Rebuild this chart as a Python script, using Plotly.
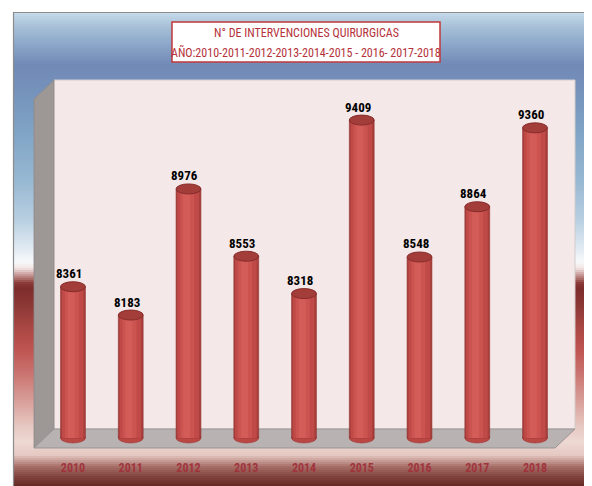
import plotly.graph_objects as go

# ---------------- data ----------------
years = ["2010", "2011", "2012", "2013", "2014", "2015", "2016", "2017", "2018"]
values = [8361, 8183, 8976, 8553, 8318, 9409, 8548, 8864, 9360]
title_line1 = "N° DE INTERVENCIONES QUIRURGICAS"
title_line2 = "AÑO:2010-2011-2012-2013-2014-2015 - 2016- 2017-2018"

# ---------------- geometry helpers ----------------
OFF = 8                      # default page body margin
W, H = 592 - OFF, 486 - OFF


def px(x):
    return (x - OFF) / W


def py(y):
    return 1 - (y - OFF) / H


Y_BASE = 7410
Y_MIN, Y_MAX = 7347, 9661
UNITS_PER_PX = (Y_MAX - Y_MIN) / (448 - 80)
ELL_H = 5 * UNITS_PER_PX
BAR_W = 0.43

FONT = "Liberation Sans Narrow, Roboto Condensed, DejaVu Sans Condensed, Arial Narrow, sans-serif"


def hex2rgb(h):
    h = h.lstrip("#")
    return tuple(int(h[i:i + 2], 16) for i in (0, 2, 4))


def lerp_color(stops, y):
    for (y0, c0), (y1, c1) in zip(stops, stops[1:]):
        if y0 <= y <= y1:
            t = (y - y0) / (y1 - y0) if y1 > y0 else 0
            a, b = hex2rgb(c0), hex2rgb(c1)
            return "rgb(%d,%d,%d)" % tuple(round(a[k] + (b[k] - a[k]) * t) for k in range(3))
    return stops[-1][1]


bg_stops = [
    (12, "#c8dceb"), (25, "#aac3d9"), (45, "#8ba6c9"), (65, "#7189b6"),
    (90, "#7592bb"), (130, "#7fa3c5"), (180, "#97b8d2"), (220, "#b8cfe1"),
    (245, "#dce7f0"), (262, "#f7f9fb"), (268, "#f2e6e5"), (276, "#c08d8a"),
    (283, "#8d3b38"), (288, "#7e2b2b"), (305, "#8c3836"), (330, "#ac4845"),
    (350, "#bf5552"), (372, "#c9716d"), (400, "#d89d98"), (425, "#e6c6c0"),
    (442, "#efd9d3"), (455, "#e5c8c2"), (467, "#a56c66"), (478, "#7c3e38"),
    (486, "#652a25"),
]

shapes = []
# gradient background
y = 12
while y < 486:
    c = lerp_color(bg_stops, y + 1)
    shapes.append(dict(type="rect", xref="paper", yref="paper", layer="below",
                       x0=px(13), x1=1.0, y0=py(min(y + 2.2, 486)), y1=py(y),
                       fillcolor=c, line=dict(width=0)))
    y += 2

# outer frame lines
shapes.append(dict(type="path", xref="paper", yref="paper", layer="below",
                   path="M %f %f L %f %f L %f %f" % (px(13.5), py(486), px(13.5), py(12.5), 1.0, py(12.5)),
                   line=dict(color="#8c8c8c", width=1.2)))


def poly(pts):
    return "M " + " L ".join("%f %f" % (px(a), py(b)) for a, b in pts) + " Z"


# back wall
shapes.append(dict(type="path", xref="paper", yref="paper", layer="below",
                   path=poly([(54, 80), (575, 80), (575, 429), (54, 429)]),
                   fillcolor="#f5e8e8", line=dict(color="#d3cccc", width=1)))
# left wall
shapes.append(dict(type="path", xref="paper", yref="paper", layer="below",
                   path=poly([(34, 99), (54, 80), (54, 429), (34, 448)]),
                   fillcolor="#9d9796", line=dict(color="#8f8989", width=0.8)))
# floor
shapes.append(dict(type="path", xref="paper", yref="paper", layer="below",
                   path=poly([(34, 448), (54, 429), (575, 429), (555, 448)]),
                   fillcolor="#b8b2b2", line=dict(color="#9a9494", width=1)))

# cylinder bottoms and tops (derived from data)
for i, v in enumerate(values):
    shapes.append(dict(type="circle", xref="x", yref="y", layer="below",
                       x0=i - BAR_W / 2, x1=i + BAR_W / 2,
                       y0=Y_BASE - ELL_H, y1=Y_BASE + ELL_H,
                       fillcolor="#bb4744", line=dict(color="#9a3634", width=0.6)))
    shapes.append(dict(type="circle", xref="x", yref="y", layer="above",
                       x0=i - BAR_W / 2, x1=i + BAR_W / 2,
                       y0=v - ELL_H, y1=v + ELL_H,
                       fillcolor="#a33d3a", line=dict(color="#862c2a", width=1)))

# title box
shapes.append(dict(type="rect", xref="paper", yref="paper", layer="above",
                   x0=px(172), x1=px(440), y0=py(62), y1=py(22),
                   fillcolor="white", line=dict(color="#c0393b", width=1.5)))

fig = go.Figure()

heights = [v - Y_BASE for v in values]
layers = [
    (BAR_W, -BAR_W / 2, "#a83f3c", dict(color="#8f302e", width=0.6)),
    (0.37, -0.19, "#c04a47", dict(width=0)),
    (0.24, -0.14, "#cb5350", dict(width=0)),
    (0.12, -0.09, "#d35c59", dict(width=0)),
]
for w, off, col, ln in layers:
    fig.add_trace(go.Bar(x=years, y=heights, base=Y_BASE, width=w, offset=off,
                         marker=dict(color=col, line=ln), hoverinfo="skip",
                         showlegend=False))

annotations = []
for i, v in enumerate(values):
    annotations.append(dict(x=i, y=v, xref="x", yref="y", text=str(v),
                            showarrow=False, yanchor="middle", yshift=13, xshift=-4,
                            font=dict(family=FONT, size=13, color="black", weight="bold")))

annotations.append(dict(x=px(306), y=py(33), xref="paper", yref="paper", text=title_line1,
                        showarrow=False, xanchor="center", yanchor="middle",
                        font=dict(family=FONT, size=12, color="#b5323a")))
annotations.append(dict(x=px(306), y=py(52), xref="paper", yref="paper", text=title_line2,
                        showarrow=False, xanchor="center", yanchor="middle",
                        font=dict(family=FONT, size=12, color="#b5323a")))

fig.update_layout(
    width=W, height=H,
    margin=dict(l=0, r=0, t=0, b=0),
    paper_bgcolor="white", plot_bgcolor="rgba(0,0,0,0)",
    barmode="overlay",
    shapes=shapes,
    annotations=annotations,
    xaxis=dict(domain=[px(44.1), px(563.9)], range=[-0.5, 8.5], type="category",
               showgrid=False, zeroline=False, showline=False,
               ticks="outside", ticklen=9, tickcolor="rgba(0,0,0,0)",
               tickfont=dict(family=FONT, size=12, color="#a0343c", weight="bold")),
    yaxis=dict(domain=[py(448), py(80)], range=[Y_MIN, Y_MAX],
               showgrid=False, zeroline=False, showline=False, showticklabels=False),
)

fig.write_html("out.html")
